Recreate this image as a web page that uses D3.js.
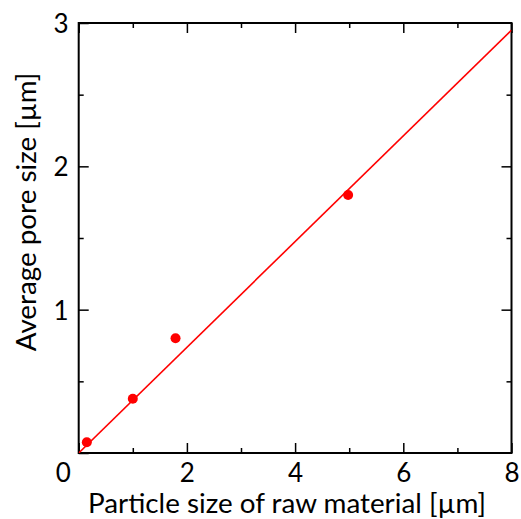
<!DOCTYPE html>
<html><head><meta charset="utf-8">
<script src="https://cdn.jsdelivr.net/npm/d3@7"></script>
<style>body{margin:0;background:#fff}svg{display:block}text{font-family:Lato,"Open Sans",sans-serif}</style>
</head><body><svg id="c" width="521" height="519"></svg>
<script>
const pointX = [0.15, 1.0, 1.79, 4.98];
const pointY = [0.075, 0.378, 0.80, 1.80];
const fitX = [0, 8];
const fitY = [0, 2.95];
const xTickLabels = [0, 2, 4, 6, 8];
const yTickLabels = [1, 2, 3];
const xTitle = "Particle size of raw material [µm]";
const yTitle = "Average pore size [µm]";

const svg = d3.select("#c");
const L = 78.7, R = 511.5, T = 23, B = 453;
const x = d3.scaleLinear().domain([0, 8]).range([L, R]);
const y = d3.scaleLinear().domain([0, 3]).range([B, T]);
const fs = 26, tfs = 27.8;

const xMinor = d3.range(1, 8, 2), yMinor = [0.5, 1.5, 2.5];
function drawAxis(axisGen, tr, major, minor, labels) {
  const g = svg.append("g").attr("transform", tr);
  g.call(axisGen.tickValues(minor).tickSize(-5).tickFormat(""));
  g.selectAll(".domain").remove();
  const g2 = svg.append("g").attr("transform", tr);
  g2.call(axisGen.tickValues(major).tickSize(-10).tickFormat(labels ? d3.format("d") : ""));
  g2.selectAll(".domain").remove();
  [g, g2].forEach(gg => gg.selectAll("line").attr("stroke", "#000").attr("stroke-width", 1.5));
  return g2;
}
const gb = drawAxis(d3.axisBottom(x), `translate(0,${B})`, xTickLabels, xMinor, true);
gb.selectAll("text").attr("font-size", fs).attr("fill", "#000").attr("dy", null).attr("y", 29)
  .attr("dx", d => d === 0 ? -16 : 0);
drawAxis(d3.axisTop(x), `translate(0,${T})`, xTickLabels, xMinor, false);
const gl = drawAxis(d3.axisLeft(y), `translate(${L},0)`, yTickLabels.concat([0]), yMinor, true);
gl.selectAll(".tick").filter(d => d === 0).select("text").remove();
gl.selectAll("text").attr("font-size", fs).attr("fill", "#000").attr("x", -10).attr("dy", "0.36em");
drawAxis(d3.axisRight(y), `translate(${R},0)`, [1, 2], yMinor, false);

svg.append("rect").attr("x", x(0)).attr("y", y(3)).attr("width", x(8) - x(0)).attr("height", y(0) - y(3))
  .attr("fill", "none").attr("stroke", "#000").attr("stroke-width", 2);

svg.append("clipPath").attr("id", "clip").append("rect").attr("x", L).attr("y", T).attr("width", R - L).attr("height", B - T);
svg.append("path").datum(fitX.map((v, i) => [v, fitY[i]]))
  .attr("d", d3.line().x(d => x(d[0])).y(d => y(d[1])))
  .attr("stroke", "#ff0000").attr("stroke-width", 1.6).attr("fill", "none").attr("clip-path", "url(#clip)");

svg.append("g").selectAll("circle").data(pointX.map((v, i) => [v, pointY[i]])).join("circle")
  .attr("cx", d => x(d[0])).attr("cy", d => y(d[1])).attr("r", 5).attr("fill", "#ff0000");

svg.append("text").attr("x", 287).attr("y", 513).attr("text-anchor", "middle").attr("font-size", tfs).text(xTitle);
svg.append("text").attr("transform", "translate(36,212) rotate(-90)").attr("text-anchor", "middle").attr("font-size", tfs).text(yTitle);
</script></body></html>
